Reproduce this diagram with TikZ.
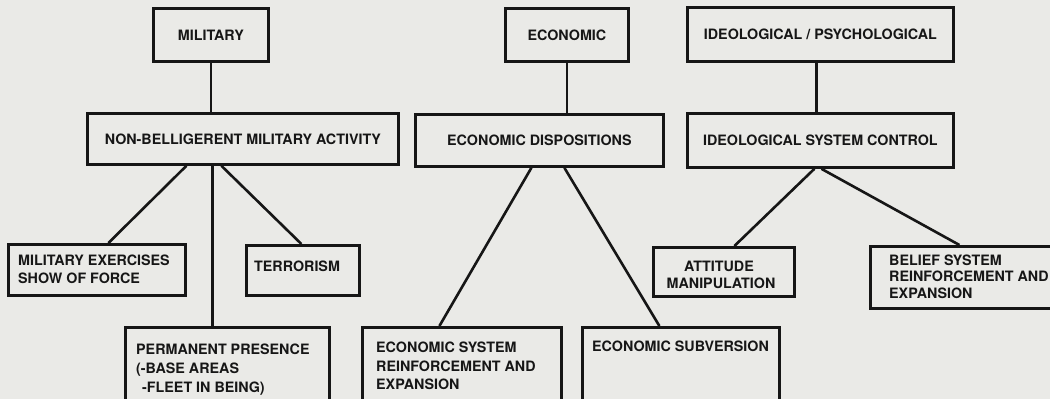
\documentclass[tikz,border=0pt]{standalone}
\usepackage{fontspec}
\setmainfont{TeX Gyre Heros}
\definecolor{paper}{RGB}{234,234,231}
\definecolor{ink}{RGB}{22,22,22}
\begin{document}
\begin{tikzpicture}[x=1pt,y=-1pt,
  txt/.style={font=\fontsize{14.3}{17}\selectfont\bfseries, text=ink, inner sep=0pt},
  box/.style={draw=ink, line width=2.8pt, inner sep=0pt, anchor=north west, txt},
  link/.style={draw=ink, line width=2.6pt},
  lbl/.style={txt, anchor=base west}
]
\fill[paper] (0,0) rectangle (1050,399);
\useasboundingbox (0,0) rectangle (1050,399);
\clip (0,0) rectangle (1050,399);

% top row
\node[box, minimum width=115pt, minimum height=53pt] (mil) at (152,7) {MILITARY};
\node[box, minimum width=123pt, minimum height=53pt] (econ) at (504,7) {ECONOMIC};
\node[box, minimum width=266pt, minimum height=54pt] (ideo) at (686,6) {IDEOLOGICAL / PSYCHOLOGICAL};

% second row
\node[box, minimum width=311pt, minimum height=51pt] (nb) at (86,112) {NON-BELLIGERENT MILITARY ACTIVITY};
\node[box, minimum width=248pt, minimum height=52pt] (ed) at (414,113) {ECONOMIC DISPOSITIONS};
\node[box, minimum width=266pt, minimum height=54pt] (isc) at (686,112) {IDEOLOGICAL SYSTEM CONTROL};

% third row
\node[box, minimum width=177pt, minimum height=51pt] (ex) at (7,243) {};
\node[box, minimum width=113pt, minimum height=50pt] (ter) at (245,244) {};
\node[box, minimum width=141pt, minimum height=49pt] (att) at (652,246) {};
\node[box, minimum width=250pt, minimum height=62pt] (bel) at (869,245) {};

% bottom row (cut off by the page edge)
\node[box, minimum width=204pt, minimum height=90pt] (perm) at (124,326) {};
\node[box, minimum width=199pt, minimum height=90pt] (esr) at (361,326) {};
\node[box, minimum width=197pt, minimum height=90pt] (sub) at (581,326) {};

% texts of the boxes
\node[lbl] (exa) at (18,265) {MILITARY EXERCISES};
\node[lbl] (exb) at (18,283) {SHOW OF FORCE};
\node[lbl] (tert) at (254,271) {TERRORISM};
\node[txt, anchor=base] (atta) at (719,271.5) {ATTITUDE};
\node[txt, anchor=base] (attb) at (721,288) {MANIPULATION};
\node[lbl] (bela) at (889,265) {BELIEF SYSTEM};
\node[lbl] (belb) at (889,281.5) {REINFORCEMENT AND};
\node[lbl] (belc) at (889,298) {EXPANSION};
\node[lbl] (perma) at (136,354) {PERMANENT PRESENCE};
\node[lbl] (permb) at (136,373) {(-BASE AREAS};
\node[lbl] (permc) at (142,392) {-FLEET IN BEING)};
\node[lbl] (esra) at (376,352) {ECONOMIC SYSTEM};
\node[lbl] (esrb) at (376,371) {REINFORCEMENT AND};
\node[lbl] (esrc) at (376,389) {EXPANSION};
\node[lbl] (subt) at (592,351.5) {ECONOMIC SUBVERSION};

% connectors
\draw[link] (mil.south) -- (mil.south |- nb.north);
\draw[link] ([xshift=-56.5pt]nb.south) -- ([xshift=11.5pt]ex.north);
\draw[link] ([xshift=-21.5pt]nb.south) -- ([xshift=-1.5pt]ter.north);
\draw[link] ([xshift=-15pt]perm.north |- nb.south) -- ([xshift=-15pt]perm.north);
\draw[link] (econ.south) -- (econ.south |- ed.north);
\draw[link] ([xshift=-8pt]ed.south) -- ([xshift=-22.5pt]esr.north);
\draw[link] ([xshift=25pt]ed.south) -- ([xshift=-21.5pt]sub.north);
\draw[link] ([xshift=-4pt]ideo.south) -- ([xshift=-4pt]isc.north);
\draw[link] ([xshift=-6pt]isc.south) -- ([xshift=10.5pt]att.north);
\draw[link] ([xshift=1pt]isc.south) -- ([xshift=-36pt]bel.north);
\end{tikzpicture}
\end{document}
